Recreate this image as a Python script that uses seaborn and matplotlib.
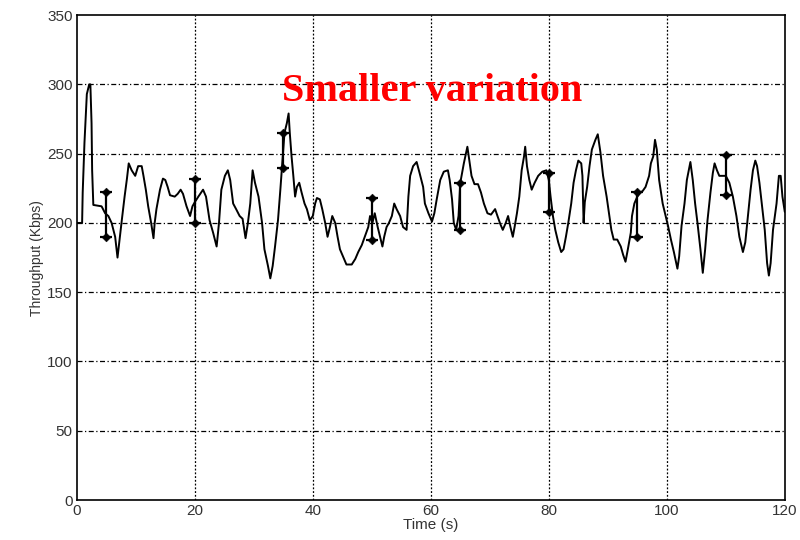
import matplotlib
matplotlib.use("Agg")
import matplotlib.pyplot as plt
import seaborn as sns
import pandas as pd

time_s = [0, 0.9, 1.0, 1.3, 1.7, 2.1, 2.3, 2.5, 2.6, 2.8, 4.2, 4.8, 5.35, 5.9, 6.2, 6.5, 6.9, 7.3, 7.6, 8.1,
          8.5, 8.8, 9.3, 9.9, 10.4, 11.0, 11.3, 11.7, 12.1, 12.6, 13.0, 13.2, 13.5, 14.1, 14.6, 15.0, 15.4, 15.8, 16.6, 17.1,
          17.6, 18.0, 18.6, 19.2, 19.6, 20.0, 20.6, 21.4, 21.9, 22.5, 23.1, 23.7, 24.1, 24.5, 25.1, 25.6, 26.0, 26.5, 27.0, 27.6,
          28.1, 28.6, 29.0, 29.4, 29.8, 30.2, 30.8, 31.4, 31.8, 32.4, 32.8, 33.2, 33.6, 34.1, 34.5, 34.9, 35.2, 35.6, 35.9, 36.1,
          36.4, 36.7, 37.0, 37.3, 37.7, 38.1, 38.6, 39.0, 39.5, 40.0, 40.4, 40.7, 41.2, 41.6, 42.1, 42.5, 42.9, 43.3, 43.8, 44.2,
          44.6, 45.2, 45.7, 46.6, 47.2, 47.7, 48.3, 48.8, 49.4, 49.7, 50.1, 50.5, 51.0, 51.4, 51.8, 52.1, 52.5, 52.9, 53.4, 53.8,
          54.2, 54.8, 55.3, 55.9, 56.2, 56.5, 57.0, 57.6, 58.1, 58.7, 59.0, 59.6, 60.2, 60.6, 61.0, 61.6, 62.2, 62.9, 63.2, 63.6,
          63.9, 64.3, 64.7, 65.0, 65.6, 66.2, 66.5, 66.9, 67.4, 68.0, 68.5, 69.0, 69.6, 70.2, 70.9, 71.3, 71.8, 72.2, 72.7, 73.1,
          73.5, 73.9, 74.2, 74.6, 75.0, 75.4, 75.8, 76.0, 76.3, 76.7, 77.1, 77.6, 78.2, 78.9, 79.6, 80.0, 80.3, 80.7, 81.1, 81.6,
          82.1, 82.5, 82.9, 83.3, 83.8, 84.2, 84.6, 85.0, 85.5, 85.7, 85.9, 86.1, 86.5, 86.9, 87.3, 87.9, 88.3, 88.75, 89.2, 89.8,
          90.2, 90.6, 91.0, 91.6, 92.2, 92.6, 93.0, 93.4, 93.9, 94.1, 94.5, 95.0, 95.5, 95.9, 96.4, 97.0, 97.3, 97.7, 98.0, 98.3,
          98.7, 99.3, 99.8, 100.2, 100.7, 101.2, 101.8, 102.1, 102.5, 103.0, 103.4, 104.0, 104.4, 104.8, 105.2, 105.7, 106.1, 106.5, 106.9, 107.4,
          107.8, 108.1, 108.5, 108.9, 109.5, 110.0, 110.6, 111.2, 111.8, 112.3, 112.9, 113.3, 113.75, 114.2, 114.6, 115.0, 115.3, 115.7, 116.1, 116.6,
          117.0, 117.3, 117.6, 118.0, 118.6, 119.0, 119.3, 119.6, 120.0]

throughput = [200, 200, 222, 258, 293, 300, 300, 272, 238, 213, 212, 207, 205, 200, 195, 190, 175, 190, 201, 219,
              232, 243, 238, 234, 241, 241, 234, 224, 212, 200, 189, 200, 210, 224, 232, 231, 226, 220, 219, 221,
              224, 221, 212, 205, 212, 215, 219, 224, 219, 202, 193, 183, 200, 224, 234, 238, 231, 214, 210, 205,
              203, 189, 200, 214, 238, 229, 219, 200, 181, 169, 160, 169, 183, 202, 224, 248, 265, 272, 279, 265,
              248, 234, 219, 226, 229, 222, 214, 210, 202, 205, 214, 218, 217, 210, 200, 190, 197, 205, 200, 190,
              181, 175, 170, 170, 174, 179, 184, 190, 197, 205, 200, 207, 197, 190, 183, 190, 197, 200, 205, 214,
              210, 205, 197, 195, 219, 234, 241, 244, 236, 226, 214, 207, 201, 207, 217, 231, 237, 238, 231, 217,
              200, 195, 205, 229, 243, 255, 246, 234, 228, 228, 222, 214, 207, 206, 210, 205, 199, 195, 200, 205,
              197, 190, 197, 207, 219, 238, 248, 255, 241, 231, 224, 229, 234, 237, 238, 231, 219, 205, 195, 186,
              179, 181, 190, 200, 214, 229, 238, 245, 243, 234, 200, 215, 226, 241, 253, 260, 264, 251, 234, 219,
              207, 195, 188, 188, 183, 177, 172, 181, 193, 205, 214, 219, 222, 223, 226, 234, 243, 248, 260, 253,
              231, 214, 205, 198, 188, 179, 167, 176, 198, 214, 231, 244, 231, 214, 200, 181, 164, 181, 202, 222,
              236, 243, 238, 234, 234, 234, 229, 219, 205, 190, 179, 186, 205, 224, 238, 245, 241, 229, 214, 195,
              171, 162, 171, 195, 214, 234, 234, 219, 208]

bar_times = [5, 20, 35, 50, 65, 80, 95, 110]
bar_high = [222, 232, 265, 218, 229, 236, 222, 249]
bar_low = [190, 200, 240, 188, 195, 208, 190, 220]

x_ticks = [0, 20, 40, 60, 80, 100, 120]
y_ticks = [0, 50, 100, 150, 200, 250, 300, 350]

sns.set_style("white")
plt.rcParams['font.family'] = ['Liberation Sans', 'DejaVu Sans']

fig = plt.figure(figsize=(8, 5.4), dpi=100)
ax = fig.add_axes([0.096, 0.074, 0.885, 0.898])

df = pd.DataFrame({"Time (s)": time_s, "Throughput (Kbps)": throughput})
sns.lineplot(data=df, x="Time (s)", y="Throughput (Kbps)", ax=ax, color="black",
             linewidth=1.4, estimator=None, sort=False)

# range bars with markers
ax.vlines(bar_times, bar_low, bar_high, color="black", linewidth=1.6, zorder=4)
sns.scatterplot(x=bar_times, y=bar_high, ax=ax, marker="D", s=20, color="black", edgecolor="black", zorder=5)
sns.scatterplot(x=bar_times, y=bar_low, ax=ax, marker="D", s=20, color="black", edgecolor="black", zorder=5)
ax.scatter(bar_times, bar_high, marker="_", s=70, color="black", linewidths=1.6, zorder=5)
ax.scatter(bar_times, bar_low, marker="_", s=70, color="black", linewidths=1.6, zorder=5)

ax.set_xlim(0, 120)
ax.set_ylim(0, 350)
ax.set_xticks(x_ticks)
ax.set_yticks(y_ticks)
ax.set_xticklabels([str(t) for t in x_ticks], fontsize=11, color="#333333")
ax.set_yticklabels([str(t) for t in y_ticks], fontsize=11, color="#333333")
ax.tick_params(direction="in", length=5, width=1, top=False, right=False, pad=3)
ax.set_xlabel("Time (s)", fontsize=11, color="#333333", labelpad=0)
ax.set_ylabel("Throughput (Kbps)", fontsize=10, color="#333333", labelpad=2)

for y in y_ticks[1:-1]:
    ax.axhline(y, color="black", linewidth=0.9, linestyle=(0, (4, 2, 1, 2)), zorder=1)
for x in x_ticks[1:-1]:
    ax.axvline(x, color="black", linewidth=0.9, linestyle=(0, (1.5, 1.5)), zorder=1)

for side in ax.spines.values():
    side.set_color("black")
    side.set_linewidth(1.2)

ax.text(60.3, 295, "Smaller variation", color="red", fontsize=29, fontweight="bold",
        family="Liberation Serif", ha="center", va="center")

fig.savefig("out.png", dpi=100)
